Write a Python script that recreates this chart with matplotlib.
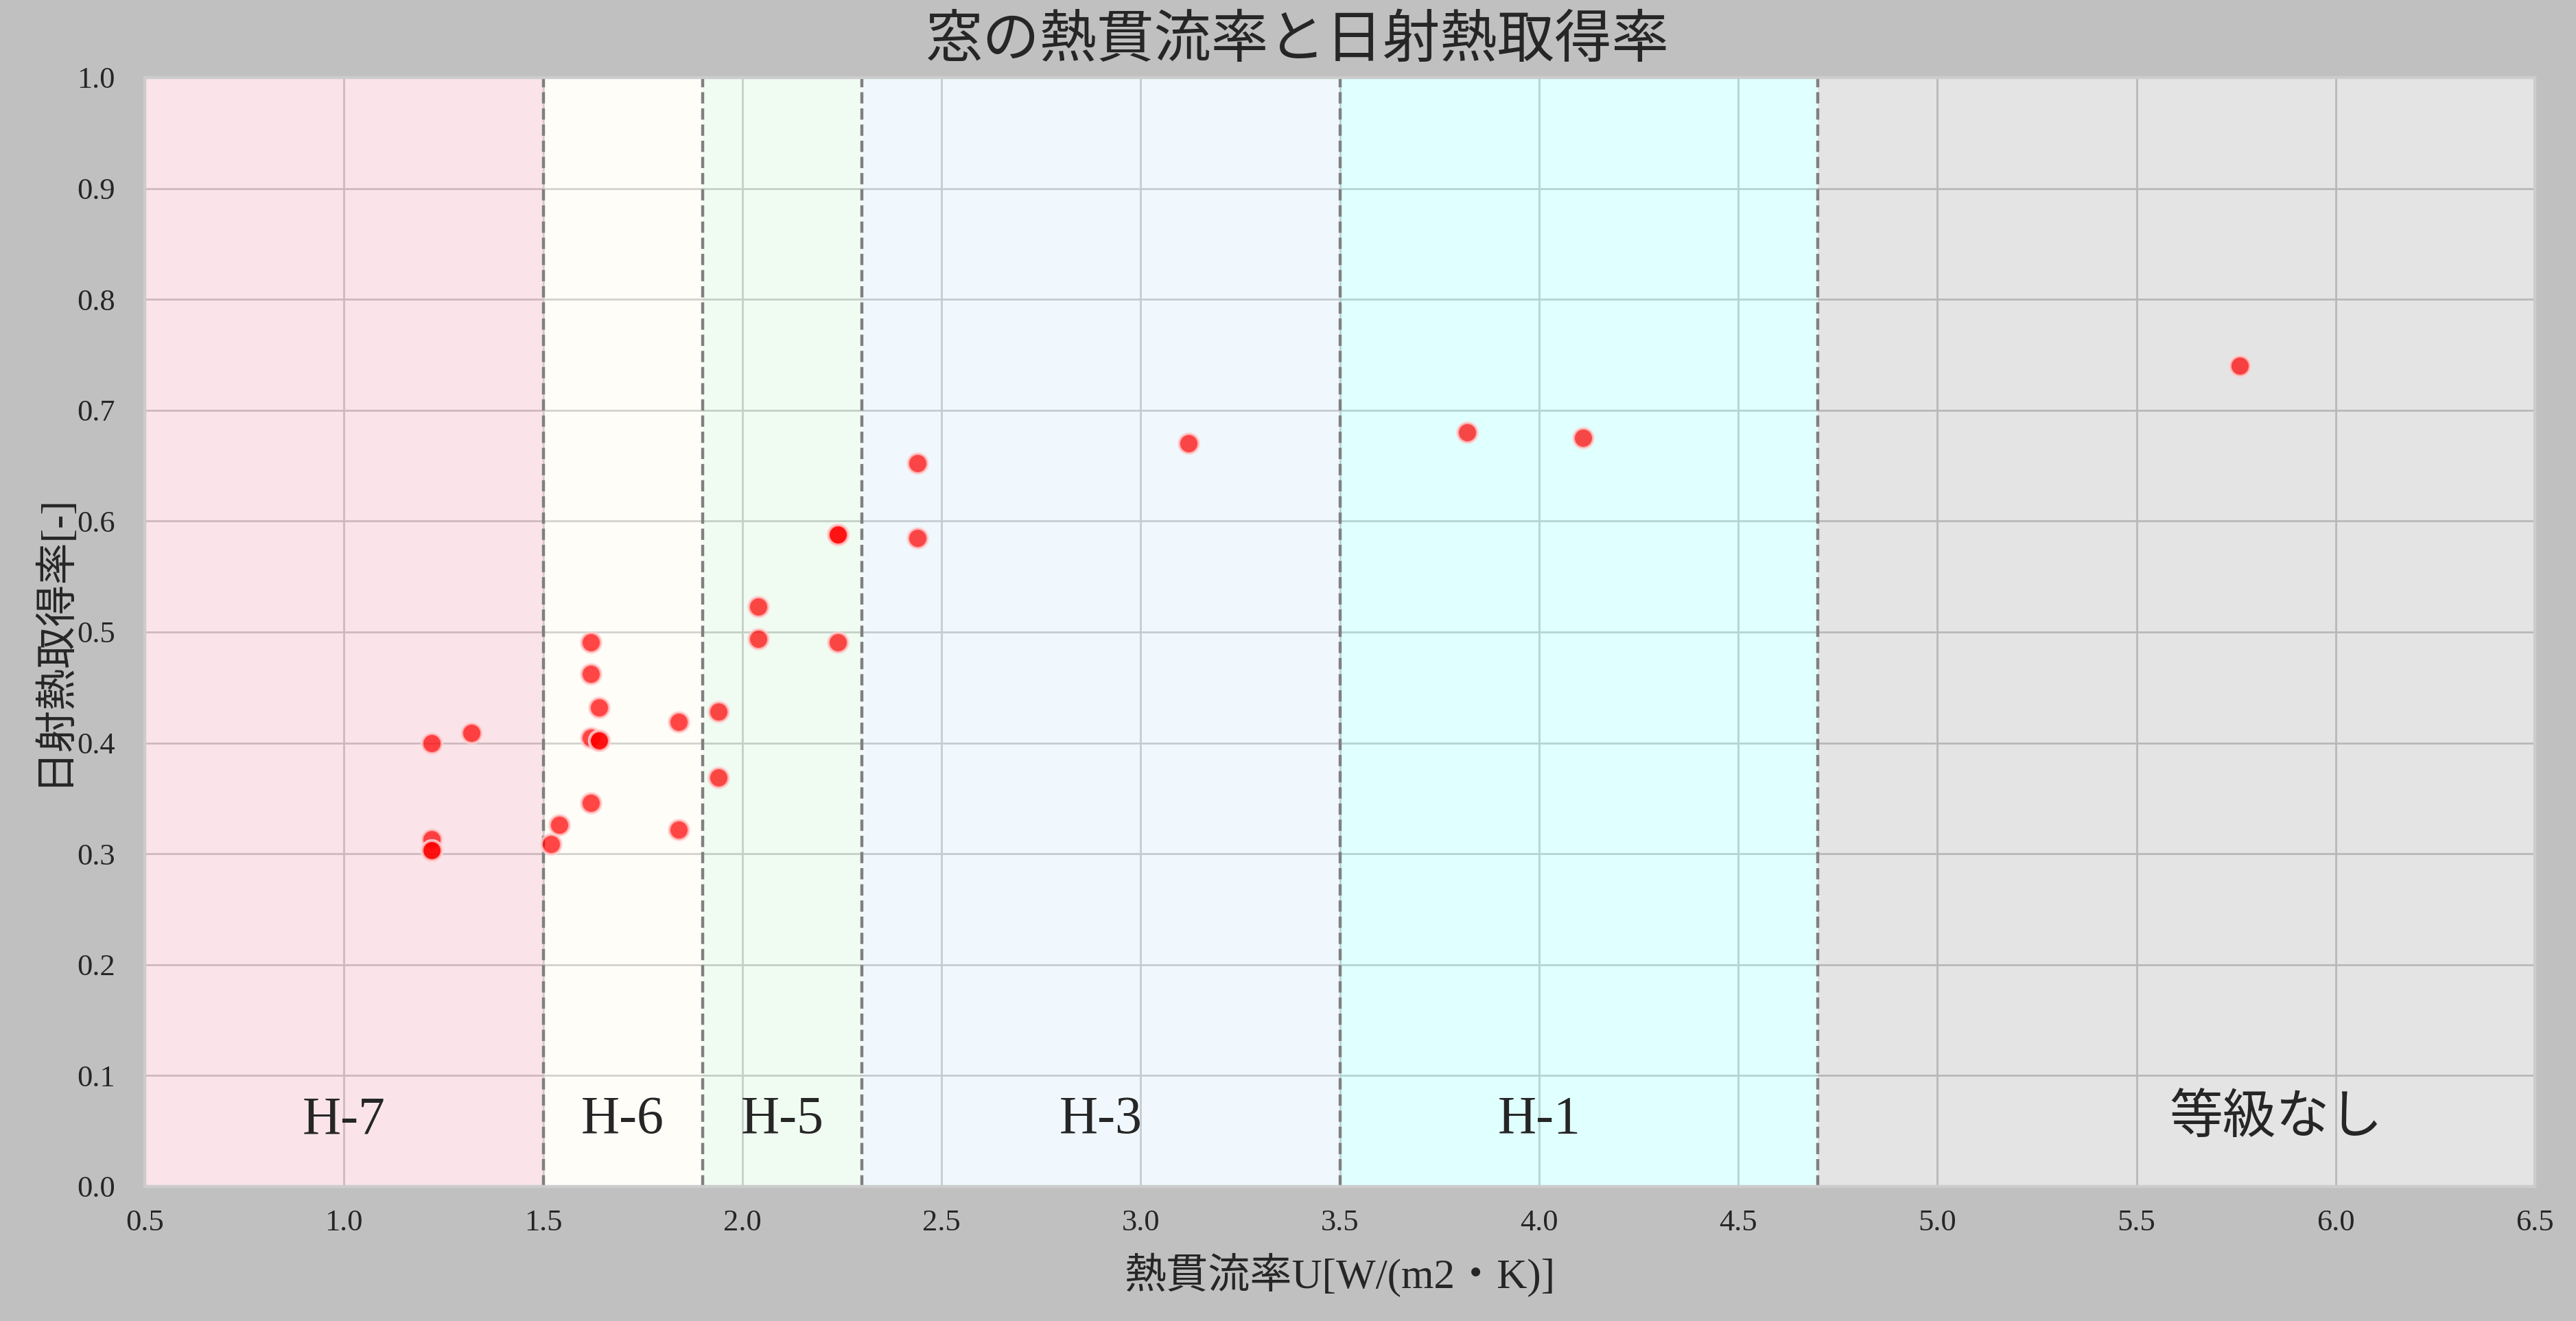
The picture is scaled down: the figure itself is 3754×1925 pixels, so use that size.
import matplotlib
matplotlib.use('Agg')
import matplotlib.pyplot as plt
import numpy as np

# ---- data ----
u_values = [1.22, 1.32, 1.22, 1.22, 1.22, 1.52, 1.54, 1.62, 1.62, 1.64, 1.62, 1.64, 1.64,
            1.62, 1.84, 1.84, 1.94, 1.94, 2.04, 2.04, 2.24, 2.24, 2.24, 2.44, 2.44,
            3.12, 3.82, 4.11, 5.76]
g_values = [0.400, 0.409, 0.313, 0.303, 0.303, 0.309, 0.326, 0.491, 0.462, 0.432, 0.405, 0.402, 0.402,
            0.346, 0.419, 0.322, 0.428, 0.369, 0.523, 0.494, 0.588, 0.588, 0.491, 0.652, 0.585,
            0.670, 0.680, 0.675, 0.740]

grade_names = ['H-7', 'H-6', 'H-5', 'H-3', 'H-1', '等級なし']
grade_bounds = [0.5, 1.5, 1.9, 2.3, 3.5, 4.7, 6.5]
grade_label_x = [1.0, 1.7, 2.1, 2.9, 4.0, 5.85]
grade_colors = ['#e44b73', '#fff8d0', '#9be5a2', '#9bd1f2', '#30ffff', '#4b4b4b']
divider_x = [1.5, 1.9, 2.3, 3.5, 4.7]

x_ticks = [0.5, 1.0, 1.5, 2.0, 2.5, 3.0, 3.5, 4.0, 4.5, 5.0, 5.5, 6.0, 6.5]
y_ticks = [0.0, 0.1, 0.2, 0.3, 0.4, 0.5, 0.6, 0.7, 0.8, 0.9, 1.0]

title = '窓の熱貫流率と日射熱取得率'
xlabel = '熱貫流率U[W/(m2・K)]'
ylabel = '日射熱取得率[-]'

SERIF = 'Liberation Serif'
CJK = 'Noto Sans CJK JP'
MIXED = [SERIF, CJK]
TXT = '#262626'

DPI = 200
fig = plt.figure(figsize=(3754 / DPI, 1925 / DPI), dpi=DPI, facecolor='#c0c0c0')
ax = fig.add_axes([211 / 3754, 1 - 1729 / 1925, (3694 - 211) / 3754, (1729 - 113) / 1925])
ax.set_facecolor('white')
ax.set_axisbelow(True)

# grid
ax.grid(True, color='#cccccc', linewidth=1.0)

# grade bands
for i, name in enumerate(grade_names):
    ax.axvspan(grade_bounds[i], grade_bounds[i + 1], color=grade_colors[i], alpha=0.15,
               linewidth=0, zorder=1)
for xv in divider_x:
    ax.axvline(xv, color='#808080', linestyle='--', linewidth=1.6, zorder=2)

# points
ax.scatter(u_values, g_values, s=110, facecolors='red', alpha=0.72, edgecolors='#ffd4d4',
           linewidths=1.5, zorder=3)

# grade labels
for name, xv in zip(grade_names, grade_label_x):
    ax.text(xv, 0.048, name, ha='center', va='baseline', fontsize=28,
            family=MIXED, color=TXT, zorder=4)

ax.set_xlim(0.5, 6.5)
ax.set_ylim(0.0, 1.0)
ax.set_xticks(x_ticks)
ax.set_yticks(y_ticks)
ax.set_xticklabels([f'{v:.1f}' for v in x_ticks])
ax.set_yticklabels([f'{v:.1f}' for v in y_ticks])
ax.tick_params(axis='both', length=0, labelsize=16, labelcolor=TXT)
ax.tick_params(axis='x', pad=12)
ax.tick_params(axis='y', pad=15.5)
for lab in ax.get_xticklabels() + ax.get_yticklabels():
    lab.set_family(SERIF)

for sp in ax.spines.values():
    sp.set_color('#cccccc')
    sp.set_linewidth(1.6)

ax.set_xlabel(xlabel, fontsize=22, family=MIXED, color=TXT, va='center')
ax.xaxis.set_label_coords(0.5, (1729 - 1858) / 1616)
ax.set_ylabel(ylabel, fontsize=22, family=MIXED, color=TXT, va='center')
ax.yaxis.set_label_coords((76 - 211) / 3483, 0.493)

fig.suptitle(title, x=1891 / 3754, y=1 - 58.5 / 1925, va='center', fontsize=30,
             family=[CJK, SERIF], color=TXT)

fig.savefig('out.png', dpi=DPI, facecolor=fig.get_facecolor())
